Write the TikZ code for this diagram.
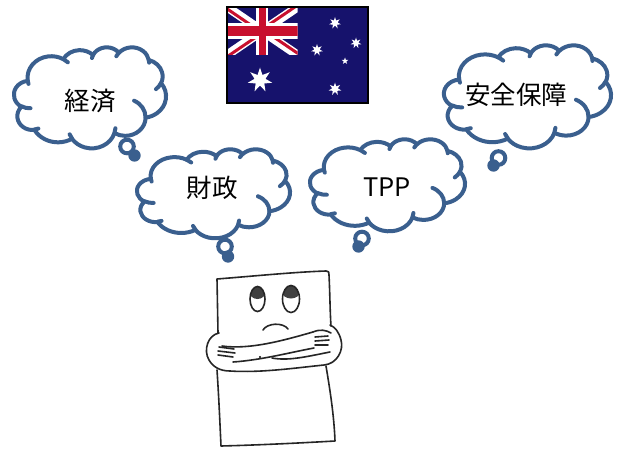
\documentclass[tikz,border=0pt]{standalone}
\usepackage{fontspec}
\setmainfont{Noto Sans CJK JP}
\usetikzlibrary{shapes.geometric}

\definecolor{cloudblue}{HTML}{3A5F8E}
\definecolor{flagblue}{HTML}{16126C}
\definecolor{flagred}{HTML}{C8102E}

% Elliptical arc given by radii, start angle and sweep measured as visual angles
\newcommand\ooarc[4]{arc[x radius=#1, y radius=#2,
  start angle={atan2((#1)*sin(#3),(#2)*cos(#3))},
  delta angle={(#4)+mod(atan2((#1)*sin((#3)+(#4)),(#2)*cos((#3)+(#4)))-((#3)+(#4))+540,360)-mod(atan2((#1)*sin(#3),(#2)*cos(#3))-(#3)+540,360)}]}

% Thought cloud fitted into the box left, top, width, height (in px)
\newcommand\thoughtcloud[4]{%
  \pgfmathsetmacro\cloudsx{#3/432}%
  \pgfmathsetmacro\cloudsy{#4/432}%
  \begin{scope}[shift={(#1,#2)}, x=\cloudsx pt, y=-\cloudsy pt]
    \draw[cloudline, fill=white] (39.00,143.70)
      \ooarc{67.53}{91.90}{-190.4875}{123.7805}
      \ooarc{53.33}{72.67}{-144.1024}{89.9452}
      \ooarc{43.65}{59.45}{-145.8079}{99.7230}
      \ooarc{48.57}{65.95}{-130.9861}{117.2417}
      \ooarc{53.33}{72.73}{-78.7089}{109.0269}
      \ooarc{67.75}{92.20}{-46.2673}{130.2690}
      \ooarc{57.85}{78.67}{0.6250}{114.0333}
      \ooarc{67.52}{92.15}{22.4516}{115.1726}
      \ooarc{77.20}{105.43}{66.2426}{75.7110}
      \ooarc{43.60}{59.18}{-274.9421}{146.7356}
      \ooarc{43.45}{59.45}{-246.8285}{152.5189}
      -- cycle;
    \draw[cloudline]
      (46.93,261.77) \ooarc{43.45}{59.45}{86.7420}{26.4295}
      (69.28,348.99) \ooarc{43.60}{59.18}{73.6105}{11.4475}
      (164.78,390.90) \ooarc{67.52}{92.15}{137.6242}{14.0811}
      (288.27,347.51) \ooarc{67.52}{92.15}{6.4533}{15.9984}
      (341.29,229.54) \ooarc{57.85}{78.67}{-70.2924}{70.9174}
      (417.98,153.54) \ooarc{53.33}{72.73}{30.3180}{27.7515}
      (383.24,54.26) \ooarc{48.57}{65.95}{-13.7443}{14.8589}
      (290.78,39.52) \ooarc{48.57}{65.95}{-149.1815}{18.1954}
      (221.41,47.20) \ooarc{43.65}{59.45}{-163.4943}{17.6864}
      (140.00,51.92) \ooarc{67.53}{91.90}{-66.7070}{12.3194}
      (41.27,157.89) \ooarc{67.53}{91.90}{157.6544}{11.8582};
  \end{scope}}

\tikzset{
  cloudline/.style={draw=cloudblue, line width=4pt, line join=round, line cap=round},
  bubble/.style={draw=cloudblue, line width=4pt, fill=white},
  bubbledot/.style={fill=cloudblue},
  thought/.style={font=\fontsize{25.5}{30}\selectfont, text=black, inner sep=0pt},
  flagstar/.style={star, star points=7, star point ratio=2.25, fill=white, draw=none, inner sep=0pt},
  ink/.style={draw=black!85, line width=1.6pt, line cap=round, line join=round},
}

\begin{document}
\begin{tikzpicture}[x=1pt, y=-1pt]
\useasboundingbox[fill=white] (0,0) rectangle (620,449);

% ---------- thought clouds ----------
\thoughtcloud{14}{47}{152}{101}
\draw[bubble] (127,146.5) circle[radius=6.8pt];
\fill[bubbledot] (134.5,155.5) circle[radius=6.2pt];
\node[thought] (econ) at (90,101) {経済};

\thoughtcloud{444}{45}{167}{103}
\draw[bubble] (498.5,158) circle[radius=6.8pt];
\fill[bubbledot] (493.5,165.5) circle[radius=6.2pt];
\node[thought] (security) at (516,95) {安全保障};

\thoughtcloud{137}{149}{153}{89}
\draw[bubble] (225,246.5) circle[radius=6.8pt];
\fill[bubbledot] (228,256.5) circle[radius=6.2pt];
\node[thought] (fiscal) at (212,188) {財政};

\thoughtcloud{310}{139}{155}{92}
\draw[bubble] (362,238.5) circle[radius=6.8pt];
\fill[bubbledot] (358.5,246.5) circle[radius=6.2pt];
\node[thought] (tpp) at (387,187) {TPP};

% ---------- flag ----------
\fill[flagblue] (227,7) rectangle (368,103);
\begin{scope}[shift={(227,7)}, x=1.175pt, y=-1.6pt]
  \clip (0,0) rectangle (60,30);
  \fill[white] (-10,-8.354) -- (70,31.646) -- (70,38.354) -- (-10,-1.646) -- cycle;
  \fill[white] (-10,31.646) -- (70,-8.354) -- (70,-1.646) -- (-10,38.354) -- cycle;
  \fill[flagred] (30,15) -- (60,30) -- (60,27.764) -- (30,12.764) -- cycle;
  \fill[flagred] (0,30) -- (30,15) -- (30,17.236) -- (0,32.236) -- cycle;
  \fill[flagred] (0,0) -- (30,15) -- (30,17.236) -- (0,2.236) -- cycle;
  \fill[flagred] (30,15) -- (60,0) -- (60,-2.236) -- (30,12.764) -- cycle;
  \fill[white] (25,0) rectangle (35,30);
  \fill[white] (0,10) rectangle (60,20);
  \fill[flagred] (27,0) rectangle (33,30);
  \fill[flagred] (0,12) rectangle (60,18);
\end{scope}
\node[flagstar, minimum size=25pt] (commonwealth) at (260,80) {};
\node[flagstar, minimum size=13pt] (alpha) at (335,89) {};
\node[flagstar, minimum size=12pt] (beta) at (317,50) {};
\node[flagstar, minimum size=12pt] (gamma) at (335,23) {};
\node[flagstar, minimum size=11pt] (delta) at (356,43) {};
\node[flagstar, star points=5, star point ratio=2.5, minimum size=7pt] (epsilon) at (345,61) {};
\draw[black, line width=2pt] (227,7) rectangle (368,103);

% ---------- worried sheet of paper ----------
% sheet outline above and below the arms
\draw[ink] (218,333) -- (217,279) .. controls (255,276) and (295,272) .. (326,271)
  .. controls (329,271) and (329,272) .. (329,275) .. controls (330,295) and (330,312) .. (331,326);
\draw[ink] (217,370) .. controls (219,400) and (220,425) .. (221,446)
  .. controls (260,445) and (300,443) .. (335,441) .. controls (334,415) and (330,390) .. (326,366);

% eyes
\begin{scope}
  \clip (257.5,299) ellipse[x radius=7.5pt, y radius=12.5pt];
  \fill[black!75] (257.5,292) ellipse[x radius=8pt, y radius=7pt];
\end{scope}
\draw[ink] (257.5,299) ellipse[x radius=7.5pt, y radius=12.5pt];
\begin{scope}
  \clip (291,299) ellipse[x radius=8.5pt, y radius=13.5pt];
  \fill[black!75] (291,291.5) ellipse[x radius=9pt, y radius=7pt];
\end{scope}
\draw[ink] (291,299) ellipse[x radius=8.5pt, y radius=13.5pt];

% mouth
\draw[ink] (263,330) .. controls (267,323) and (283,322) .. (288,329);

% crossed arms: elbow loops joined by the lower forearm edge
\draw[ink] (219,333) .. controls (208,335) and (203,350) .. (209,360)
  .. controls (213,367) and (220,371) .. (230,371)
  .. controls (260,373) and (295,368) .. (324,365)
  .. controls (337,364) and (344,350) .. (341,340)
  .. controls (339,332) and (335,327) .. (330,325);
% forearm reaching across to the right hand
\draw[ink] (222,346) .. controls (250,350) and (285,340) .. (313,332);
\draw[ink] (233,362) .. controls (262,360) and (292,352) .. (314,348);
% forearm reaching across to the left hand
\draw[ink] (330,352) .. controls (305,357) and (288,361) .. (272,358);
% hands
\draw[ink] (313,332) .. controls (320,329) and (326,330) .. (331,333);
\draw[ink] (315,337) -- (328,336) (315,341) -- (329,340) (315,345) -- (328,345);
\draw[ink] (219,347) -- (234,349) (218,351) -- (235,353) (218,355) -- (233,357);
\fill[black] (260,357) circle[radius=1.2pt];
\end{tikzpicture}
\end{document}
